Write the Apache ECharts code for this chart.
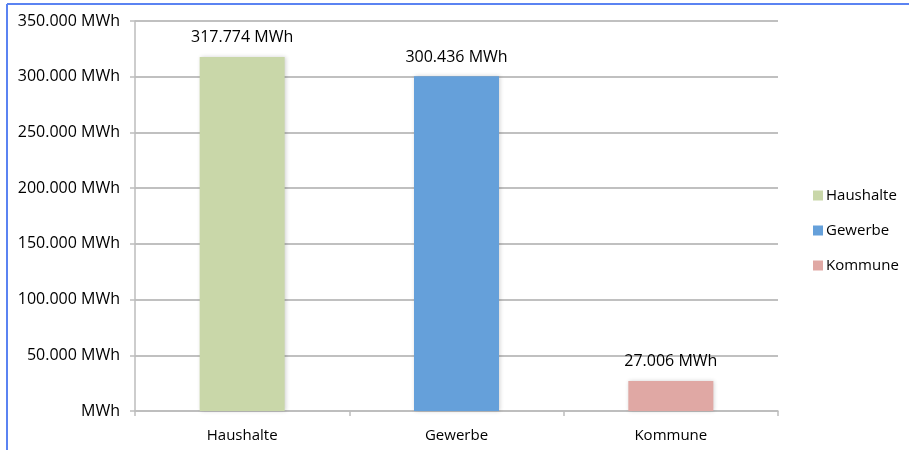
<!DOCTYPE html>
<html>
<head>
<meta charset="utf-8">
<script src="https://cdn.jsdelivr.net/npm/echarts@6/dist/echarts.min.js"></script>
<style>html,body{margin:0;padding:0;background:#fff}#c{width:909px;height:450px}</style>
</head>
<body>
<div id="c"></div>
<script>
const categories = ['Haushalte', 'Gewerbe', 'Kommune'];
const values = [317774, 300436, 27006];
const colors = ['#c9d7a9', '#65a0da', '#e0a8a4'];
const yTicks = { min: 0, max: 350000, interval: 50000 };

function fmt(v) {
  return String(Math.round(v)).replace(/\B(?=(\d{3})+(?!\d))/g, '.');
}

const FONT = '"Open Sans", sans-serif';
const chart = echarts.init(document.getElementById('c'), null, { renderer: 'canvas' });

const series = categories.map((name, i) => ({
  name: name,
  type: 'bar',
  stack: 'all',
  barWidth: 85,
  data: categories.map((c, j) => (j === i ? values[i] : '-')),
  itemStyle: {
    color: colors[i],
    shadowBlur: 4,
    shadowColor: 'rgba(0,0,0,0.18)',
    shadowOffsetX: 1,
    shadowOffsetY: 0
  },
  label: {
    show: true,
    position: 'top',
    distance: 11,
    color: '#000',
    fontFamily: FONT,
    fontSize: 16,
    formatter: p => fmt(p.value) + ' MWh'
  }
}));

chart.setOption({
  animation: false,
  backgroundColor: '#fff',
  textStyle: { fontFamily: FONT },
  grid: { left: 135, right: 131, top: 21, bottom: 39, containLabel: false },
  legend: {
    orient: 'vertical',
    left: 808,
    top: 183,
    itemWidth: 10,
    itemHeight: 10,
    itemGap: 20,
    icon: 'rect',
    textStyle: { fontFamily: FONT, fontSize: 15, color: '#000', padding: [0, 0, 0, -2] },
    data: categories
  },
  xAxis: {
    type: 'category',
    data: categories,
    axisLine: { lineStyle: { color: '#bdbdbd', width: 1.5 } },
    axisTick: { show: true, length: 5, alignWithLabel: false, lineStyle: { color: '#bdbdbd', width: 1.5 } },
    axisLabel: { color: '#000', fontFamily: FONT, fontSize: 15, margin: 17 },
    splitLine: { show: false }
  },
  yAxis: {
    type: 'value',
    min: yTicks.min,
    max: yTicks.max,
    interval: yTicks.interval,
    axisLine: { show: true, lineStyle: { color: '#bdbdbd', width: 1.5 } },
    axisTick: { show: true, length: 5, lineStyle: { color: '#bdbdbd', width: 1.5 } },
    axisLabel: {
      color: '#000', fontFamily: FONT, fontSize: 16, margin: 15,
      formatter: v => (v === 0 ? 'MWh' : fmt(v) + ' MWh')
    },
    splitLine: { show: true, lineStyle: { color: '#c0c0c0', width: 2 } }
  },
  graphic: [
    { type: 'line', shape: { x1: 7, y1: 4, x2: 909, y2: 4 }, style: { stroke: '#5b83f2', lineWidth: 2 }, z: 100 },
    { type: 'line', shape: { x1: 7, y1: 4, x2: 7, y2: 450 }, style: { stroke: '#5b83f2', lineWidth: 2 }, z: 100 }
  ],
  series: series
});
</script>
</body>
</html>
